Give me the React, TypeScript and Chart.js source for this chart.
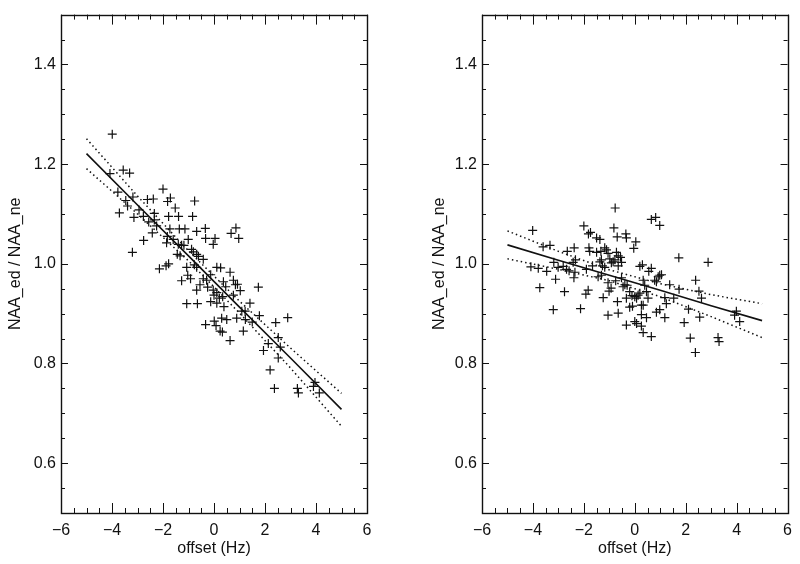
import React, { useEffect, useRef } from "react";
import { Chart, registerables } from "chart.js";

Chart.register(...registerables);

// ---------- data ----------
const xTickValues = [-6, -4, -2, 0, 2, 4, 6];
const yTickValues = [0.6, 0.8, 1.0, 1.2, 1.4];

const leftX = [
  -3.99, -3.56, -3.31, -4.08, -3.77, -3.46, -3.18, -3.39, -3.71, -3.14,
  -2.61, -2.38, -2.0, -1.82, -1.71, -1.52, -0.76, -2.94, -2.77, -2.56,
  -2.34, -2.34, -2.25, -2.42, -1.78, -1.39, -1.36, -1.14, -0.84, -0.68,
  -0.34, -0.33, 0.04, -0.03, -2.76, -3.2, -1.83, -1.6, -1.73, -1.86,
  -1.4, -1.27, -1.18, -1.01, -0.88, -0.81, -0.68, -0.61, -0.42, -1.44,
  -1.33, -2.14, -1.88, -1.78, -1.07, -0.68, -0.77, -1.27, -1.03, -0.92,
  -0.68, -0.55, -0.42, -0.29, -0.25, -0.13, 0.11, 0.26, 0.63, 0.37,
  0.46, 0.76, 0.84, 0.92, 1.03, 0.76, 0.67, 0.86, 0.97, -0.03,
  0.0, 0.11, 0.21, 0.34, 0.39, -0.13, 0.11, -1.07, -0.65, -0.33,
  0.01, 0.08, 0.24, 0.33, 0.5, 0.63, 0.3, 0.89, 1.15, 1.23,
  1.41, 1.5, 1.74, 1.78, 1.94, 2.13, 2.42, 2.52, 2.6, 2.52,
  2.89, 2.2, 2.37, 3.27, 3.31, 3.96, 4.13, 1.09, 1.22, 3.9,
];
const leftY = [
  1.26, 1.188, 1.182, 1.181, 1.144, 1.127, 1.134, 1.116, 1.102, 1.093,
  1.129, 1.13, 1.15, 1.125, 1.132, 1.112, 1.126, 1.108, 1.095, 1.084,
  1.101, 1.088, 1.076, 1.062, 1.095, 1.095, 1.07, 1.07, 1.095, 1.065,
  1.071, 1.051, 1.051, 1.039, 1.047, 1.023, 1.055, 1.049, 1.07, 1.042,
  1.039, 1.037, 1.037, 1.049, 1.029, 1.024, 1.019, 1.015, 1.009, 1.019,
  1.016, 0.99, 0.996, 1.0, 0.993, 0.993, 0.998, 0.966, 0.977, 0.97,
  0.947, 0.958, 0.97, 0.967, 0.953, 0.978, 0.993, 0.992, 0.983, 0.964,
  0.954, 0.967, 0.958, 0.959, 0.946, 0.937, 1.061, 1.072, 1.051, 0.947,
  0.937, 0.942, 0.931, 0.934, 0.914, 0.924, 0.921, 0.92, 0.92, 0.878,
  0.885, 0.876, 0.865, 0.863, 0.888, 0.846, 0.891, 0.891, 0.865, 0.888,
  0.921, 0.883, 0.953, 0.896, 0.826, 0.84, 0.882, 0.852, 0.833, 0.811,
  0.892, 0.787, 0.75, 0.75, 0.741, 0.762, 0.741, 0.905, 0.905, 0.754,
];

const rightX = [
  -4.01, -4.08, -3.79, -3.46, -3.73, -3.2, -3.11, -2.76, -3.6, -3.33,
  -3.18, -3.01, -2.81, -2.68, -2.58, -2.42, -2.33, -2.65, -2.38, -2.0,
  -1.82, -1.74, -1.5, -1.37, -1.8, -1.77, -1.5, -1.33, -1.18, -1.11,
  -2.39, -2.35, -2.13, -1.92, -1.83, -1.9, -1.66, -1.37, -1.31, -1.27,
  -1.44, -1.31, -1.24, -1.05, -1.05, -1.01, -0.93, -0.75, -0.68, -0.65,
  -1.05, -0.98, -1.18, -0.92, -0.85, -0.78, -0.72, -0.65, -0.56, -0.52,
  -0.65, -0.77, -0.82, -0.69, -0.35, -0.33, 0.04, -0.04, -0.52, -0.46,
  -0.39, -0.3, -0.2, -0.33, -0.2, -0.09, -0.33, 0.0, 0.07, 0.26,
  0.33, -0.11, 0.0, 0.07, 0.13, 0.2, 0.26, 0.33, 0.26, 0.46,
  0.65, 0.2, 0.3, 0.33, 0.39, 0.46, 0.52, 0.65, 0.82, 0.98,
  0.55, 0.65, 0.78, 0.85, 0.92, 0.98, 1.05, 0.85, 0.98, 1.18,
  1.18, 1.24, 1.37, 1.53, 1.74, 1.73, 1.94, 2.11, 2.18, 2.39,
  2.38, 2.52, 2.55, 2.62, 2.88, 3.27, 3.31, 3.92, 3.99, 4.12,
];
const rightY = [
  1.067, 0.994, 0.991, 0.985, 0.952, 0.908, 0.969, 0.944, 1.034, 1.037,
  1.003, 0.993, 0.995, 0.989, 0.986, 1.003, 1.008, 1.025, 1.032, 1.076,
  1.06, 1.063, 1.052, 1.049, 1.032, 1.025, 1.023, 1.025, 1.032, 1.028,
  0.972, 0.983, 0.91, 0.939, 0.947, 0.989, 0.996, 1.004, 1.008, 0.996,
  0.974, 0.977, 0.932, 0.962, 0.897, 0.945, 0.951, 0.966, 0.924, 0.901,
  1.021, 1.01, 0.993, 1.002, 1.004, 1.008, 1.023, 1.016, 1.013, 1.003,
  0.996, 1.112, 1.072, 1.054, 1.06, 1.052, 1.044, 1.031, 0.972, 0.954,
  0.958, 0.957, 0.944, 0.931, 0.913, 0.915, 0.877, 0.884, 0.88, 0.875,
  0.862, 0.936, 0.934, 0.931, 0.937, 0.941, 0.917, 0.917, 0.898, 0.892,
  0.854, 0.995, 0.998, 0.967, 0.957, 0.944, 0.931, 1.089, 1.093, 1.077,
  0.985, 0.991, 0.967, 0.964, 0.974, 0.977, 0.978, 0.903, 0.908, 0.892,
  0.932, 0.92, 0.958, 0.931, 0.949, 1.012, 0.882, 0.909, 0.851, 0.967,
  0.822, 0.945, 0.893, 0.931, 1.003, 0.852, 0.844, 0.897, 0.905, 0.884,
];

// regression line and confidence band, read at these x positions
const bandX = [-5, -3, -1, 1, 3, 5];
const leftFit = [1.221, 1.118, 1.016, 0.913, 0.811, 0.708];
const leftUpper = [1.251, 1.136, 1.026, 0.925, 0.831, 0.74];
const leftLower = [1.191, 1.1, 1.006, 0.901, 0.791, 0.674];
const rightFit = [1.038, 1.007, 0.977, 0.947, 0.916, 0.886];
const rightUpper = [1.066, 1.025, 0.988, 0.96, 0.938, 0.92];
const rightLower = [1.01, 0.989, 0.966, 0.934, 0.894, 0.852];

const X_TITLE = "offset (Hz)";
const Y_TITLE = "NAA_ed / NAA_ne";

// ---------- chart helpers ----------
const FONT = "'Liberation Sans', Arial, Helvetica, sans-serif";
const INK = "#111";

const framePlugin = {
  id: "frame",
  afterDatasetsDraw(chart: any) {
    const { ctx, chartArea: a, scales } = chart;
    const xs = scales.x;
    const ys = scales.y;
    ctx.save();
    ctx.strokeStyle = INK;
    ctx.lineWidth = 1;
    ctx.beginPath();
    const xmin = xs.min, xmax = xs.max;
    const nx = Math.round((xmax - xmin) / 0.5);
    for (let i = 0; i <= nx; i++) {
      const v = xmin + i * 0.5;
      const p = Math.round(xs.getPixelForValue(v)) + 0.5;
      const len = i % 4 === 0 ? 10 : 5;
      ctx.moveTo(p, a.bottom);
      ctx.lineTo(p, a.bottom - len);
      ctx.moveTo(p, a.top);
      ctx.lineTo(p, a.top + len);
    }
    const ymin = ys.min, ymax = ys.max;
    const ny = Math.round((ymax - ymin) / 0.05);
    for (let i = 0; i <= ny; i++) {
      const v = ymin + i * 0.05;
      const p = Math.round(ys.getPixelForValue(v)) + 0.5;
      const major = yTickValues.some((t) => Math.abs(t - v) < 1e-6);
      const len = major ? 7 : 4;
      ctx.moveTo(a.left, p);
      ctx.lineTo(a.left + len, p);
      ctx.moveTo(a.right, p);
      ctx.lineTo(a.right - len, p);
    }
    ctx.stroke();
    ctx.lineWidth = 1.4;
    ctx.strokeRect(
      Math.round(a.left) + 0.5,
      Math.round(a.top) + 0.5,
      Math.round(a.right - a.left),
      Math.round(a.bottom - a.top)
    );
    ctx.restore();
  },
};

function toPts(xs: number[], ys: number[]) {
  return xs.map((x, i) => ({ x, y: ys[i] }));
}

function makeConfig(
  px: number[],
  py: number[],
  fit: number[],
  upper: number[],
  lower: number[],
  yAxisWidth: number,
  padRight: number,
  yTitlePad: number
): any {
  const lineDs = (vals: number[], dash: number[] | undefined, width: number) => ({
    type: "scatter",
    data: toPts(bandX, vals),
    showLine: true,
    borderColor: INK,
    borderWidth: width,
    borderDash: dash,
    pointRadius: 0,
    fill: false,
  });
  return {
    type: "scatter",
    data: {
      datasets: [
        {
          data: toPts(px, py),
          pointStyle: "cross",
          pointRadius: 4.5,
          pointBorderWidth: 1.2,
          borderColor: INK,
          backgroundColor: INK,
          showLine: false,
        },
        lineDs(fit, undefined, 1.6),
        lineDs(upper, [1.5, 3], 1.5),
        lineDs(lower, [1.5, 3], 1.5),
      ],
    },
    options: {
      responsive: false,
      animation: false,
      events: [],
      layout: { padding: { left: 0, right: padRight, top: 8, bottom: 0 } },
      plugins: { legend: { display: false }, tooltip: { enabled: false } },
      scales: {
        x: {
          type: "linear",
          min: -6,
          max: 6,
          grid: { display: false, drawTicks: false, tickLength: 0 },
          border: { display: false },
          afterBuildTicks: (s: any) => {
            s.ticks = xTickValues.map((v) => ({ value: v }));
          },
          afterFit: (s: any) => {
            s.height = 51;
          },
          ticks: {
            color: INK,
            padding: 8,
            maxRotation: 0,
            autoSkip: false,
            font: { family: FONT, size: 16 },
            callback: (v: number) => String(v).replace("-", "\u2212"),
          },
          title: {
            display: true,
            text: X_TITLE,
            color: INK,
            font: { family: FONT, size: 16 },
            padding: { top: 0, bottom: 6 },
          },
        },
        y: {
          type: "linear",
          min: 0.5,
          max: 1.5,
          grid: { display: false, drawTicks: false, tickLength: 0 },
          border: { display: false },
          afterBuildTicks: (s: any) => {
            s.ticks = yTickValues.map((v) => ({ value: v }));
          },
          afterFit: (s: any) => {
            s.width = yAxisWidth;
          },
          ticks: {
            color: INK,
            padding: 5,
            autoSkip: false,
            font: { family: FONT, size: 16 },
            callback: (v: number) => Number(v).toFixed(1),
          },
          title: {
            display: true,
            text: Y_TITLE,
            color: INK,
            font: { family: FONT, size: 16 },
            padding: { top: yTitlePad, bottom: 0 },
          },
        },
      },
    },
    plugins: [framePlugin],
  };
}

function Panel(props: { cfg: () => any; left: number }) {
  const ref = useRef<HTMLCanvasElement | null>(null);
  useEffect(() => {
    if (!ref.current) return;
    const chart = new Chart(ref.current, props.cfg());
    return () => chart.destroy();
  }, []);
  return (
    <canvas
      ref={ref}
      width={400}
      height={564}
      style={{ position: "absolute", left: props.left, top: 0, width: 400, height: 564 }}
    />
  );
}

export default function App() {
  return (
    <div
      style={{
        position: "fixed",
        left: 0,
        top: 0,
        width: 800,
        height: 564,
        background: "#fff",
        overflow: "hidden",
      }}
    >
      <Panel
        left={0}
        cfg={() => makeConfig(leftX, leftY, leftFit, leftUpper, leftLower, 61, 33, 6.4)}
      />
      <Panel
        left={400}
        cfg={() => makeConfig(rightX, rightY, rightFit, rightUpper, rightLower, 82, 12, 30.4)}
      />
    </div>
  );
}
